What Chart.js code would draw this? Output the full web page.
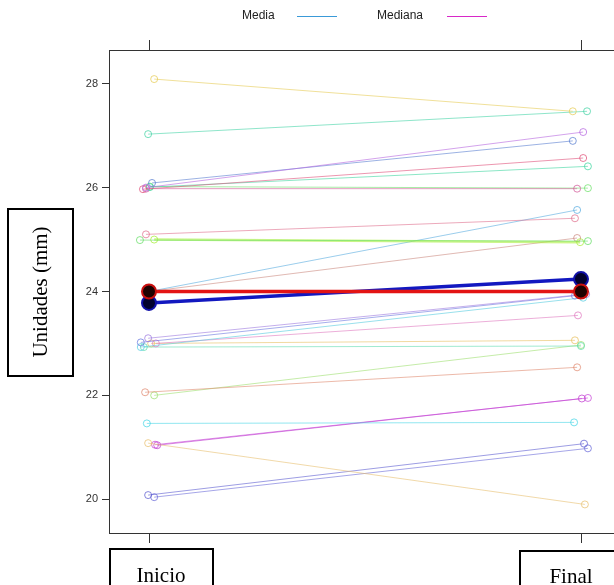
<!DOCTYPE html>
<html>
<head>
<meta charset="utf-8">
<script src="https://cdn.jsdelivr.net/npm/chart.js@4/dist/chart.umd.min.js"></script>
<style>
  html, body { margin: 0; padding: 0; background: #fff; overflow: hidden; }
  #wrap { position: absolute; left: 0; top: 0; width: 640px; height: 585px; }
</style>
</head>
<body>
<div id="wrap"><canvas id="myChart" width="640" height="585"></canvas></div>
<script>
// Time points on the x axis
const categories = ['Inicio', 'Final'];

// Each subject: value at start and at end (mm)
const inicio = [28.09, 27.03, 26.00, 26.09, 25.97, 26.01, 25.98, 26.02,
                25.10, 24.99, 25.00, 24.00, 24.00,
                23.10, 23.02, 22.93, 23.00, 23.00, 22.93,
                22.06, 22.00, 21.46, 21.08, 21.04, 21.05, 20.08, 20.04];
const final  = [27.47, 27.47, 27.07, 26.90, 26.57, 26.41, 25.98, 25.99,
                25.41, 24.97, 24.95, 25.57, 25.03,
                23.95, 23.92, 23.88, 23.54, 23.06, 22.95,
                22.54, 22.97, 21.48, 19.90, 21.94, 21.95, 21.07, 20.98];

// horizontal jitter of each subject (x units, 1 = distance Inicio -> Final)
const inicioJitter = [0.012, -0.002, -0.007, 0.007, -0.014, 0.002, -0.007, 0.002,
                      -0.007, -0.021, 0.012, 0.0, 0.0,
                      -0.002, -0.019, -0.019, 0.016, 0.005, -0.012,
                      -0.009, 0.012, -0.005, -0.002, 0.019, 0.014, -0.002, 0.012];
const finalJitter  = [-0.019, 0.014, 0.005, -0.019, 0.005, 0.016, -0.009, 0.016,
                      -0.014, 0.016, -0.002, -0.009, -0.009,
                      0.012, -0.014, 0.005, -0.007, -0.014, 0.0,
                      -0.009, 0.0, -0.016, 0.009, 0.002, 0.016, 0.007, 0.016];

// Summary lines
const media   = [23.78, 24.24];
const mediana = [24.00, 24.00];

const yTicks = [20, 22, 24, 26, 28];

const palette = ['#e6cc55', '#45d3a6', '#b565e0', '#5a7fd0', '#e0507a', '#3fd6a0', '#d35a9a', '#6ee06a',
                 '#e0708e', '#66dd66', '#a8ee3a', '#58ace0', '#cc8a80',
                 '#9c7ae0', '#6a78e0', '#55cce0', '#e07ac0', '#e8c060', '#60dcb0',
                 '#e08a70', '#9ee070', '#48d6e6', '#e8c070', '#c03ad0', '#c848d8', '#5c5cd0', '#6a6ad8'];

function hexA(hex, a) {
    const n = parseInt(hex.slice(1), 16);
    return 'rgba(' + (n >> 16) + ',' + ((n >> 8) & 255) + ',' + (n & 255) + ',' + a + ')';
}

const datasets = [];

datasets.push({
    label: 'Mediana',
    data: [{ x: 0, y: mediana[0] }, { x: 1, y: mediana[1] }],
    borderColor: '#e31414',
    borderWidth: 3.5,
    pointRadius: 7,
    pointBackgroundColor: '#1e0202',
    pointBorderColor: '#c81010',
    pointBorderWidth: 2
});
datasets.push({
    label: 'Media',
    data: [{ x: 0, y: media[0] }, { x: 1, y: media[1] }],
    borderColor: '#1218c0',
    borderWidth: 3.5,
    pointRadius: 7,
    pointBackgroundColor: '#02022e',
    pointBorderColor: '#1010a8',
    pointBorderWidth: 2
});

inicio.forEach((v, i) => {
    const c = palette[i % palette.length];
    datasets.push({
        label: 's' + (i + 1),
        data: [{ x: inicioJitter[i], y: v }, { x: 1 + finalJitter[i], y: final[i] }],
        borderColor: hexA(c, 0.6),
        borderWidth: i === 10 ? 2.5 : 1,
        pointRadius: 3.5,
        pointBackgroundColor: 'rgba(255,255,255,0)',
        pointBorderColor: hexA(c, 0.75),
        pointBorderWidth: 1
    });
});

// frame, outer ticks, boxed labels and legend
const decorations = {
    id: 'decorations',
    afterDraw(chart) {
        const ctx = chart.ctx;
        const a = chart.chartArea;
        const xs = chart.scales.x;
        ctx.save();
        ctx.strokeStyle = '#333';
        ctx.lineWidth = 1;
        ctx.strokeRect(a.left + 0.5, a.top + 0.5, a.right - a.left, a.bottom - a.top);

        categories.forEach((c, i) => {
            const px = Math.round(xs.getPixelForValue(i)) + 0.5;
            ctx.beginPath();
            ctx.moveTo(px, a.top - 10); ctx.lineTo(px, a.top);
            ctx.moveTo(px, a.bottom); ctx.lineTo(px, a.bottom + 10);
            ctx.stroke();
        });

        // boxed labels
        ctx.strokeStyle = '#000';
        ctx.lineWidth = 2;
        ctx.fillStyle = '#000';
        ctx.font = '21px "Liberation Serif", "Times New Roman", serif';
        ctx.textAlign = 'center';
        ctx.textBaseline = 'middle';

        ctx.strokeRect(8, 209, 65, 167);
        ctx.save();
        ctx.translate(41, 292);
        ctx.rotate(-Math.PI / 2);
        ctx.fillText('Unidades (mm)', 0, 0);
        ctx.restore();

        ctx.strokeRect(110, 549, 103, 50);
        ctx.fillText(categories[0], 161, 576);
        ctx.strokeRect(520, 551, 140, 50);
        ctx.fillText(categories[1], 571, 577);

        // legend
        ctx.font = '12px "Liberation Sans", Arial, sans-serif';
        ctx.fillStyle = '#222';
        ctx.textAlign = 'left';
        ctx.fillText('Media', 242, 16);
        ctx.fillText('Mediana', 377, 16);
        ctx.lineWidth = 1;
        ctx.strokeStyle = '#3a9ad8';
        ctx.beginPath(); ctx.moveTo(297, 16.5); ctx.lineTo(337, 16.5); ctx.stroke();
        ctx.strokeStyle = '#d828c8';
        ctx.beginPath(); ctx.moveTo(447, 16.5); ctx.lineTo(487, 16.5); ctx.stroke();
        ctx.restore();
    }
};

const ctx = document.getElementById('myChart').getContext('2d');
new Chart(ctx, {
    type: 'line',
    data: { datasets: datasets },
    options: {
        responsive: false,
        animation: false,
        devicePixelRatio: 1,
        layout: { padding: { top: 50, bottom: 52, right: 19, left: 0 } },
        plugins: { legend: { display: false }, tooltip: { enabled: false } },
        scales: {
            x: {
                type: 'linear',
                min: -0.0926,
                max: 1.0926,
                display: false
            },
            y: {
                min: 19.35,
                max: 28.65,
                afterBuildTicks: scale => { scale.ticks = yTicks.map(v => ({ value: v })); },
                afterFit: scale => { scale.width = 109; },
                grid: { drawOnChartArea: false, drawTicks: true, tickLength: 7, color: '#333' },
                border: { display: true, color: '#333' },
                ticks: {
                    color: '#333',
                    padding: 4,
                    font: { family: '"Liberation Sans", Arial, sans-serif', size: 11 }
                }
            }
        }
    },
    plugins: [decorations]
});
</script>
</body>
</html>
